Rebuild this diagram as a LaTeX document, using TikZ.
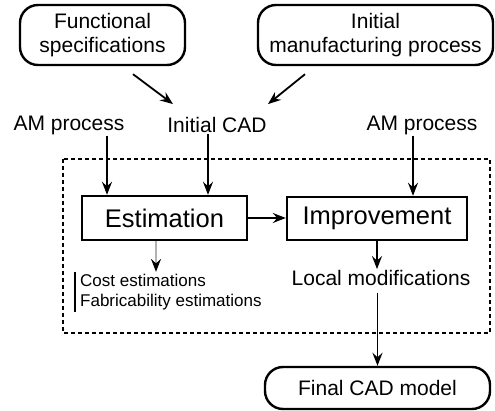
\documentclass[tikz,border=0pt]{standalone}
\usepackage{fontspec}
\setmainfont{Liberation Sans}
\usepackage{tikz}
\usetikzlibrary{arrows.meta}

\tikzset{
  startbox/.style={draw,line width=2.4pt,rounded corners=18pt,align=center,
    font=\fontsize{21}{24}\selectfont},
  stagebox/.style={draw,line width=2.4pt,font=\fontsize{25.5}{28}\selectfont},
  plain/.style={inner sep=1pt,font=\fontsize{21}{24}\selectfont},
  flow/.style={line width=1.8pt,-{Stealth[length=13pt,width=10pt,inset=4.5pt]}}
}

\begin{document}
\begin{tikzpicture}[x=1pt,y=-1pt]
\useasboundingbox (0,0) rectangle (495,411);
% inputs
\node [startbox,minimum width=165pt,minimum height=60pt] (spec) at (102.5,35) {Functional\\specifications};
\node [startbox,minimum width=235pt,minimum height=60pt] (manuf) at (375.5,35) {Initial\\manufacturing process};
\node [plain] (cad) at (217,125) {Initial CAD};
\node [plain] (amL) at (69,125) {AM process};
\node [plain] (amR) at (422,125) {AM process};
% loop
\draw [line width=2.2pt,dash pattern=on 4pt off 3pt] (63,159) rectangle (490,333);
\node [stagebox,minimum width=165pt,minimum height=44pt] (est) at (164.5,218) {Estimation};
\node [stagebox,minimum width=180pt,minimum height=43pt] (imp) at (377,218.5) {Improvement};
\node [inner sep=2pt,anchor=west,align=left,font=\fontsize{17}{20}\selectfont] (estims) at (78,292) {Cost estimations\\Fabricability estimations};
\draw [line width=1.2pt] ([xshift=-3pt]estims.north west) -- ([xshift=-3pt]estims.south west);
\node [plain] (locmod) at (381,278) {Local modifications};
\node [startbox,minimum width=225pt,minimum height=42pt] (final) at (377.5,388) {Final CAD model};
% arrows
\draw [flow] ([xshift=30.5pt,yshift=-8pt]spec.south) -- ([xshift=-44pt,yshift=12pt]cad.north);
\draw [flow] ([xshift=-70.5pt,yshift=-8pt]manuf.south) -- ([xshift=51pt,yshift=12pt]cad.north);
\draw [flow] ([xshift=-57.5pt]est.north |- amL.south) -- ([xshift=-57.5pt]est.north);
\draw [flow] ([xshift=43.5pt]est.north |- cad.south) -- ([xshift=43.5pt]est.north);
\draw [flow] ([xshift=36pt]imp.north |- amR.south) -- ([xshift=36pt]imp.north);
\draw [flow] (est.east) -- (est.east -| imp.west);
\draw [flow,draw=gray!60,-{Stealth[length=13pt,width=10pt,inset=4.5pt,black]}] ([xshift=-8.5pt]est.south) -- ([xshift=-8.5pt]est.south |- estims.north);
\draw [flow] (imp.south) -- (imp.south |- locmod.north);
\draw [flow] ([yshift=-6pt]locmod.south -| final.north) -- (final.north);
\end{tikzpicture}
\end{document}
